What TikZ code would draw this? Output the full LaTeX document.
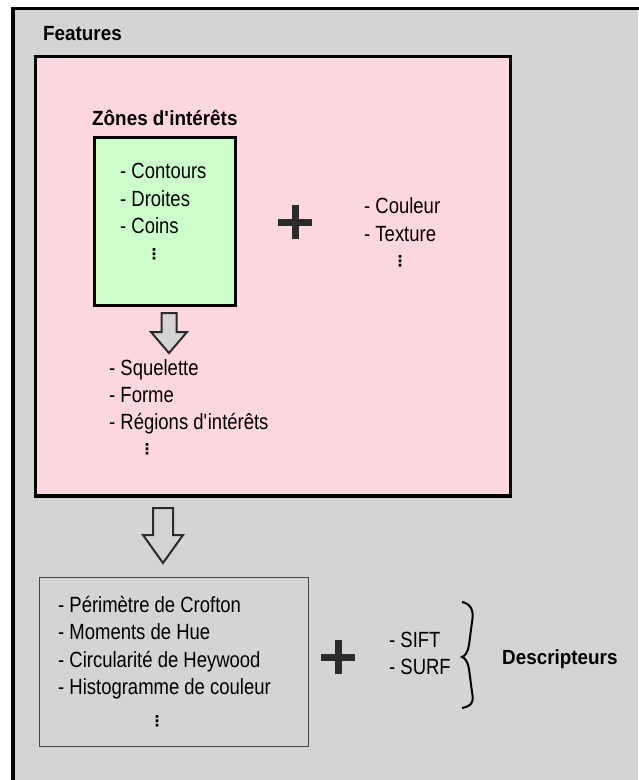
\documentclass[tikz,border=0pt]{standalone}
\usepackage{fontspec}
\setmainfont{Liberation Sans}[FakeStretch=0.84]
\newfontfamily\headfont{Liberation Sans}[FakeStretch=0.92]
\newfontfamily\dotfont{DejaVu Sans}

\definecolor{bggray}{RGB}{212,212,212}
\definecolor{featpink}{RGB}{255,215,225}
\definecolor{zonegreen}{RGB}{204,255,204}
\definecolor{plusgray}{RGB}{43,43,43}
\definecolor{boxgray}{RGB}{70,70,70}

\tikzset{
  item/.style={anchor=base west, inner sep=0pt, font=\fontsize{22}{27}\selectfont},
  heading/.style={anchor=base west, inner sep=0pt, font=\headfont\bfseries\fontsize{20.5}{24}\selectfont},
  more/.style={inner sep=0pt, font=\dotfont\bfseries\fontsize{15}{15}\selectfont},
  blockarrow/.style={draw=plusgray, line width=2pt, fill=bggray, line join=miter},
  plus/.style={draw=plusgray, line width=7pt},
}

\begin{document}
\begin{tikzpicture}[x=1pt,y=-1pt]

    \useasboundingbox (0,0) rectangle (638,780);

    \fill[bggray] (13,8.5) rectangle (638,790);
    \draw[line width=3.5pt] (13,800) -- (13,8.5) -- (650,8.5);

    \node[heading] (features) at (43,40) {Features};

    \draw[line width=3.5pt, fill=featpink] (35.5,56.5) rectangle (510.5,496);

    % zones d'interets
    \node[heading] (zonetitle) at (92,125) {Zônes d\textquotesingle intérêts};
    \draw[line width=3pt, fill=zonegreen] (94.5,137.5) rectangle (235.5,305.5);
    \node[item] (contours) at (120,178) {- Contours};
    \node[item] (droites) at (120,206) {- Droites};
    \node[item] (coins) at (120,233) {- Coins};
    \node[more] (zonemore) at (154,254) {⋮};

    \draw[plus] (278,222) -- (312,222) (295,205) -- (295,239);

    \node[item] (couleur) at (364,213) {- Couleur};
    \node[item] (texture) at (364,241) {- Texture};
    \node[more] (colmore) at (400,261) {⋮};

    \draw[blockarrow] (161.5,313) -- (176.5,313) -- (176.5,332) -- (187,332)
      -- (169,353) -- (151,332) -- (161.5,332) -- cycle;

    \node[item] (squelette) at (109,375) {- Squelette};
    \node[item] (forme) at (109,402) {- Forme};
    \node[item] (regions) at (109,429) {- Régions d\textquotesingle intérêts};
    \node[more] (shapemore) at (147,449) {⋮};

    \draw[blockarrow] (153,508) -- (173,508) -- (173,535) -- (183,535)
      -- (163,563) -- (143,535) -- (153,535) -- cycle;

    % descripteurs
    \draw[draw=boxgray, line width=1.5pt] (39.5,577.5) rectangle (308.5,746.5);
    \node[item] (crofton) at (58,612) {- Périmètre de Crofton};
    \node[item] (hue) at (58,639) {- Moments de Hue};
    \node[item] (heywood) at (58,667) {- Circularité de Heywood};
    \node[item] (histo) at (58,694) {- Histogramme de couleur};
    \node[more] (descmore) at (157,721) {⋮};

    \draw[plus] (321,657) -- (355,657) (338,640) -- (338,674);

    \node[item] (sift) at (389,647) {- SIFT};
    \node[item] (surf) at (389,674) {- SURF};

    \draw[line width=2pt] (462,602) .. controls (472,604) and (474,612) .. (472,622)
      -- (469,645) .. controls (468,652) and (465,656) .. (462,657)
      .. controls (465,658) and (468,662) .. (469,669)
      -- (472,692) .. controls (474,702) and (472,706) .. (462,708);

    \node[heading] (descripteurs) at (502,664) {Descripteurs};

  \end{tikzpicture}
\end{document}
